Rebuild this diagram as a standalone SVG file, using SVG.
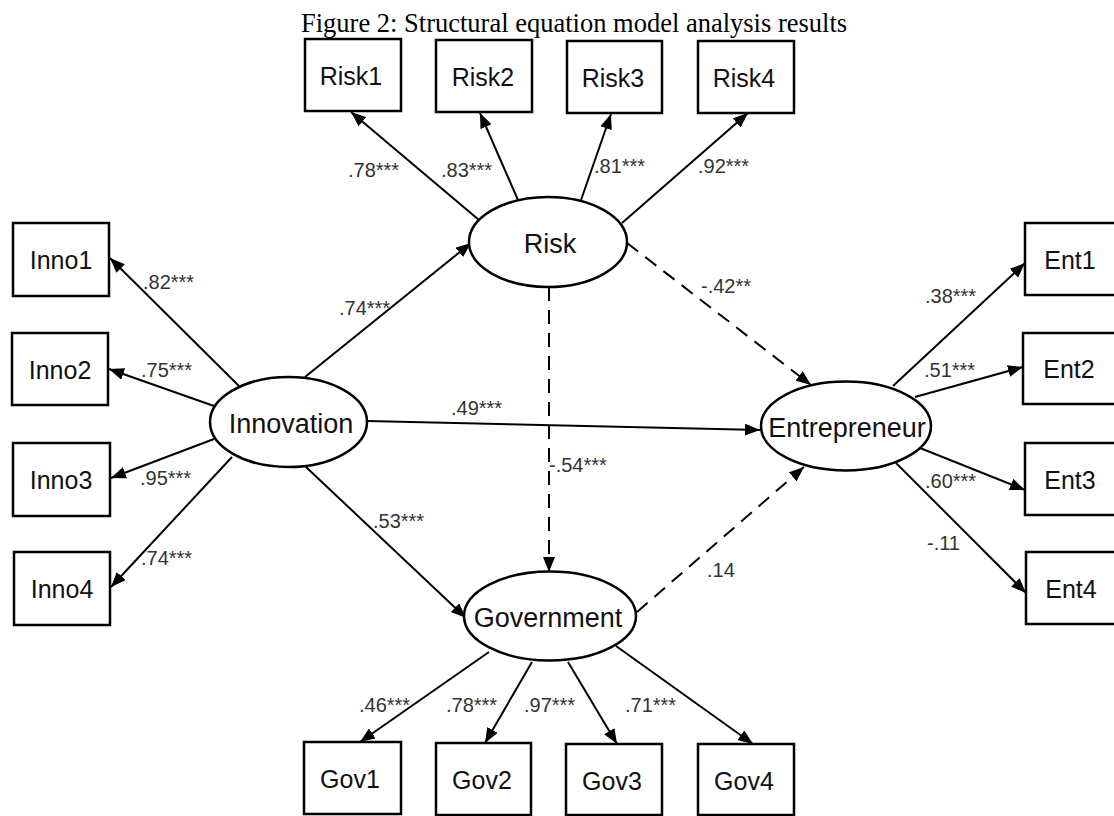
<svg xmlns="http://www.w3.org/2000/svg" width="1114" height="816" viewBox="0 0 1114 816">
<defs>
<marker id="ah" markerUnits="userSpaceOnUse" markerWidth="16" markerHeight="12" refX="15" refY="6" orient="auto">
<path d="M0,0 L15,6 L0,12 z" fill="#000"/>
</marker>
<style>
.box{fill:#fff;stroke:#000;stroke-width:2.5}
.ell{fill:#fff;stroke:#000;stroke-width:2.5}
.bt{font-family:"Liberation Sans",Arial,sans-serif;font-size:25px;fill:#111;text-anchor:middle}
.et{font-family:"Liberation Sans",Arial,sans-serif;font-size:27px;fill:#111;text-anchor:middle}
.lb{font-family:"Liberation Sans",Arial,sans-serif;font-size:20px;fill:#333}
.c{stroke:#000;stroke-width:2;fill:none;marker-end:url(#ah)}
.d{stroke-dasharray:14 9}
.title{font-family:"Liberation Serif","Times New Roman",serif;font-size:26.5px;fill:#000}
</style>
</defs>
<rect width="1114" height="816" fill="#fff"/>
<text class="title" x="301" y="32">Figure 2: Structural equation model analysis results</text>

<g id="connectors">
<line class="c" x1="479" y1="220" x2="351" y2="112"/>
<line class="c" x1="518" y1="200" x2="480" y2="113"/>
<line class="c" x1="581" y1="200" x2="611" y2="114"/>
<line class="c" x1="622" y1="223" x2="748" y2="113"/>
<line class="c" x1="239" y1="386" x2="110" y2="258"/>
<line class="c" x1="214" y1="406" x2="109" y2="369"/>
<line class="c" x1="214" y1="439" x2="111" y2="478"/>
<line class="c" x1="232" y1="457" x2="111" y2="587"/>
<line class="c" x1="305" y1="377" x2="471" y2="243"/>
<line class="c" x1="367" y1="421" x2="760" y2="430"/>
<line class="c" x1="306" y1="467" x2="466" y2="618"/>
<line class="c d" x1="549" y1="287" x2="549" y2="572"/>
<line class="c d" x1="627" y1="243" x2="811" y2="385"/>
<line class="c d" x1="637" y1="612" x2="804" y2="467"/>
<line class="c" x1="893" y1="386" x2="1025" y2="263"/>
<line class="c" x1="915" y1="397" x2="1023" y2="367"/>
<line class="c" x1="920" y1="448" x2="1025" y2="490"/>
<line class="c" x1="896" y1="463" x2="1026" y2="593"/>
<line class="c" x1="489" y1="652" x2="360" y2="742"/>
<line class="c" x1="532" y1="662" x2="485" y2="743"/>
<line class="c" x1="568" y1="662" x2="617" y2="744"/>
<line class="c" x1="616" y1="646" x2="753" y2="744"/>
</g>

<g id="labels">
<text class="lb" x="348" y="177">.78***</text>
<text class="lb" x="441" y="177">.83***</text>
<text class="lb" x="594" y="173">.81***</text>
<text class="lb" x="698" y="173">.92***</text>
<text class="lb" x="143" y="289">.82***</text>
<text class="lb" x="141" y="377">.75***</text>
<text class="lb" x="140" y="485">.95***</text>
<text class="lb" x="141" y="565">.74***</text>
<text class="lb" x="339" y="315">.74***</text>
<text class="lb" x="451" y="415">.49***</text>
<text class="lb" x="373" y="528">.53***</text>
<text class="lb" x="549" y="472">-.54***</text>
<text class="lb" x="701" y="293">-.42**</text>
<text class="lb" x="925" y="303">.38***</text>
<text class="lb" x="924" y="377">.51***</text>
<text class="lb" x="925" y="488">.60***</text>
<text class="lb" x="927" y="550">-.11</text>
<text class="lb" x="707" y="577">.14</text>
<text class="lb" x="359" y="712">.46***</text>
<text class="lb" x="446" y="712">.78***</text>
<text class="lb" x="524" y="712">.97***</text>
<text class="lb" x="625" y="712">.71***</text>
</g>

<g id="Risk"><ellipse class="ell" cx="548" cy="242" rx="79" ry="45"/><text class="et" x="550" y="253">Risk</text></g>
<g id="Innovation"><ellipse class="ell" cx="288.5" cy="422" rx="78.5" ry="45"/><text class="et" x="291" y="433">Innovation</text></g>
<g id="Entrepreneur"><ellipse class="ell" cx="846" cy="426" rx="85" ry="44.5"/><text class="et" x="847" y="437">Entrepreneur</text></g>
<g id="Government"><ellipse class="ell" cx="550" cy="616" rx="86" ry="44.5"/><text class="et" x="548" y="627">Government</text></g>

<g id="Risk1"><rect class="box" x="305" y="39" width="96" height="72"/><text class="bt" x="351" y="85">Risk1</text></g>
<g id="Risk2"><rect class="box" x="436" y="40" width="96" height="72"/><text class="bt" x="483" y="86">Risk2</text></g>
<g id="Risk3"><rect class="box" x="567" y="41" width="95" height="72"/><text class="bt" x="613" y="87">Risk3</text></g>
<g id="Risk4"><rect class="box" x="698" y="41" width="96" height="72"/><text class="bt" x="744" y="87">Risk4</text></g>

<g id="Inno1"><rect class="box" x="13" y="223" width="96" height="73"/><text class="bt" x="61" y="269">Inno1</text></g>
<g id="Inno2"><rect class="box" x="12" y="333" width="96" height="72"/><text class="bt" x="60" y="379">Inno2</text></g>
<g id="Inno3"><rect class="box" x="13" y="443" width="97" height="73"/><text class="bt" x="61" y="489">Inno3</text></g>
<g id="Inno4"><rect class="box" x="14" y="552" width="96" height="73"/><text class="bt" x="62" y="598">Inno4</text></g>

<g id="Ent1"><rect class="box" x="1025" y="223" width="96" height="72"/><text class="bt" x="1070" y="269">Ent1</text></g>
<g id="Ent2"><rect class="box" x="1023" y="333" width="96" height="71"/><text class="bt" x="1069" y="378">Ent2</text></g>
<g id="Ent3"><rect class="box" x="1025" y="443" width="96" height="72"/><text class="bt" x="1070" y="489">Ent3</text></g>
<g id="Ent4"><rect class="box" x="1026" y="552" width="96" height="72"/><text class="bt" x="1071" y="598">Ent4</text></g>

<g id="Gov1"><rect class="box" x="304" y="742" width="97" height="72"/><text class="bt" x="350" y="788">Gov1</text></g>
<g id="Gov2"><rect class="box" x="436" y="743" width="95" height="72"/><text class="bt" x="482" y="789">Gov2</text></g>
<g id="Gov3"><rect class="box" x="566" y="744" width="96" height="71"/><text class="bt" x="612" y="790">Gov3</text></g>
<g id="Gov4"><rect class="box" x="698" y="744" width="96" height="71"/><text class="bt" x="744" y="790">Gov4</text></g>
</svg>
